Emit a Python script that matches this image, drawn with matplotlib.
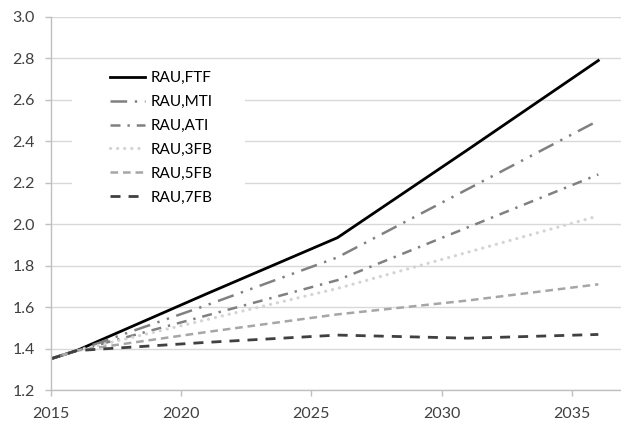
import matplotlib
matplotlib.use('Agg')
import matplotlib.pyplot as plt
from matplotlib.patches import Rectangle

plt.rcParams['font.family'] = ['Lato', 'DejaVu Sans']
plt.rcParams['lines.scale_dashes'] = False

# data
years = [2015, 2016, 2021, 2026, 2031, 2036]
ftf = [1.35, 1.39, 1.665, 1.935, 2.36, 2.79]
mti = [1.35, 1.39, 1.61, 1.84, 2.17, 2.50]
ati = [1.35, 1.39, 1.56, 1.73, 1.985, 2.24]
fb3 = [1.35, 1.39, 1.54, 1.69, 1.865, 2.04]
fb5 = [1.35, 1.39, 1.48, 1.565, 1.632, 1.71]
fb7 = [1.35, 1.39, 1.43, 1.465, 1.45, 1.468]
labels = ['RAU,FTF', 'RAU,MTI', 'RAU,ATI', 'RAU,3FB', 'RAU,5FB', 'RAU,7FB']
xticks = [2015, 2020, 2025, 2030, 2035]
yticks = [1.2, 1.4, 1.6, 1.8, 2.0, 2.2, 2.4, 2.6, 2.8, 3.0]

fig = plt.figure(figsize=(6.21, 4.28), dpi=100)
ax = fig.add_axes([50.5/621, 38/428, 570.5/621, 373/428])

ax.plot(years, ftf, color='black', lw=2.0, label=labels[0])
ax.plot(years, mti, color='#808080', lw=1.8, dashes=(12, 5.5, 1.7, 5.5, 1.7, 5.5), label=labels[1])
ax.plot(years, ati, color='#808080', lw=1.8, dashes=(7.2, 5, 1.7, 5), label=labels[2])
ax.plot(years, fb3, color='#d4d4d4', lw=2.3, dashes=(0.1, 5), dash_capstyle='round', label=labels[3])
ax.plot(years, fb5, color='#a6a6a6', lw=1.8, dashes=(5.5, 3.5), label=labels[4])
ax.plot(years, fb7, color='#404040', lw=2.0, dashes=(7.2, 5.8), label=labels[5])

ax.set_xlim(2015, 2036.87)
ax.set_ylim(1.2, 3.0)
ax.set_xticks(xticks)
ax.set_yticks(yticks)
ax.set_yticklabels([f'{v:.1f}' for v in yticks])
ax.yaxis.grid(True, color='#d9d9d9', lw=1.0)
ax.set_axisbelow(True)

for s in ['top', 'right']:
    ax.spines[s].set_visible(False)
for s in ['left', 'bottom']:
    ax.spines[s].set_color('#bfbfbf')
    ax.spines[s].set_linewidth(1.0)
ax.tick_params(axis='both', direction='out', length=4.3, width=1.0, color='#bfbfbf',
               labelsize=11.5, labelcolor='#404040')
ax.tick_params(axis='x', pad=8)
ax.tick_params(axis='y', pad=7)

# white legend area hides the gridlines behind it
ax.add_patch(Rectangle((0.0377, 0.477), 0.303, 0.402, transform=ax.transAxes,
                       facecolor='white', edgecolor='none', zorder=1.5))

leg = fig.legend(loc='upper left', bbox_to_anchor=(110/621, 1 - 71/428), frameon=False,
                 fontsize=11, handlelength=2.3, handletextpad=0.33, labelspacing=0.65,
                 borderpad=0, borderaxespad=0)
for t in leg.get_texts():
    t.set_color('black')

fig.savefig('out.png', dpi=100)
